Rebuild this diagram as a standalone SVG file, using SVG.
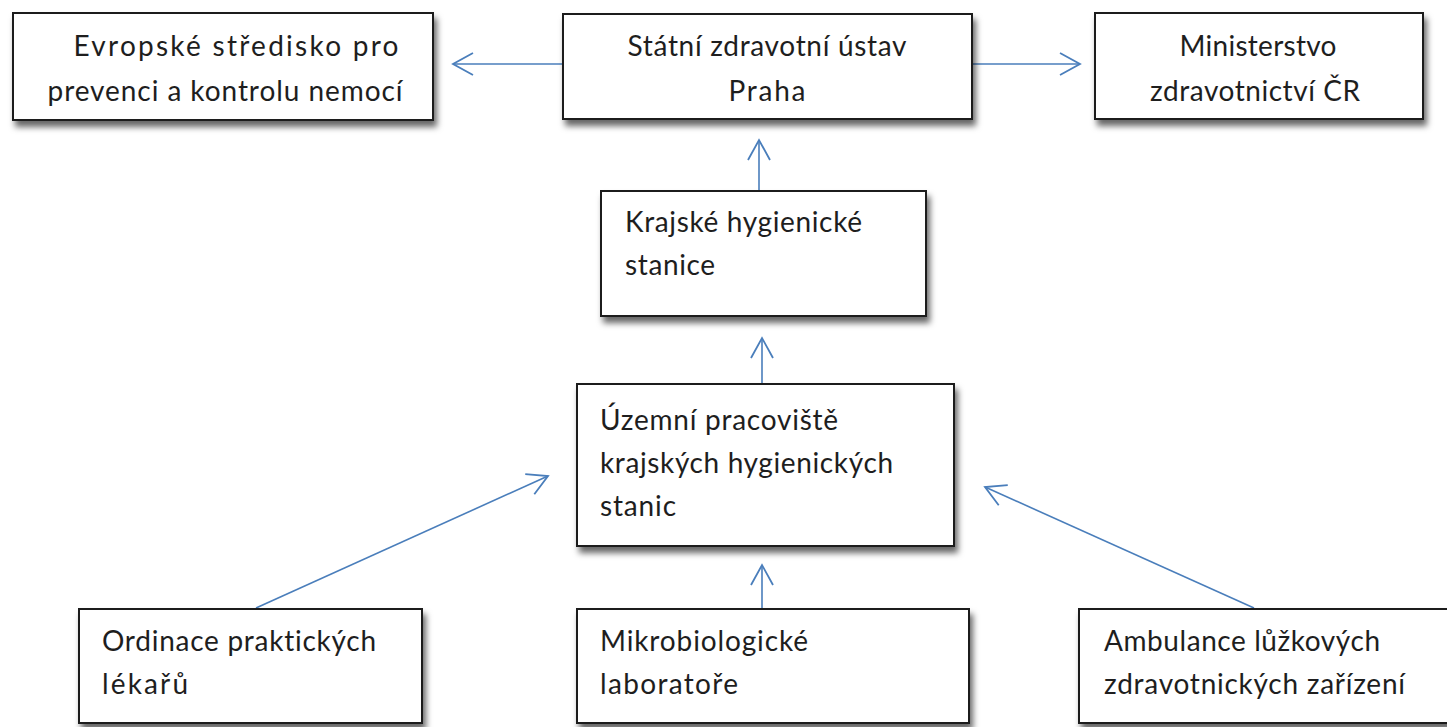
<svg xmlns="http://www.w3.org/2000/svg" width="1447" height="727" viewBox="0 0 1447 727">
<style>
.box{fill:#fff;stroke:#1a1a1a;stroke-width:2;filter:url(#sh)}
.t{font-family:Lato,"Liberation Sans",sans-serif;font-size:28px;fill:#1e1e1e;font-variant-ligatures:none}
.c{text-anchor:middle}
.ln{stroke:#4a7ebb;stroke-width:1.6;fill:none;marker-end:url(#ah)}
.lsh{stroke:#a9bfdc;stroke-width:4;fill:none;opacity:0.35;filter:url(#bl)}
</style>
<defs>
<filter id="sh" x="-10%" y="-10%" width="125%" height="140%">
<feDropShadow dx="3" dy="6" stdDeviation="3" flood-color="#000" flood-opacity="0.6"/>
</filter>
<filter id="bl"><feGaussianBlur stdDeviation="3"/></filter>
<marker id="ah" markerUnits="userSpaceOnUse" markerWidth="30" markerHeight="30" viewBox="-24 -15 28 30" refX="0" refY="0" orient="auto">
<path d="M-20,-11 L0,0 L-20,11" fill="none" stroke="#4a7ebb" stroke-width="1.8"/>
</marker>
</defs>
<rect width="1447" height="727" fill="#fff"/>
<g id="connectors">
<line class="lsh" x1="563" y1="70" x2="455" y2="70"/>
<line class="ln" x1="563" y1="64" x2="453" y2="64"/>
<line class="lsh" x1="972" y1="70" x2="1078" y2="70"/>
<line class="ln" x1="972" y1="64" x2="1080" y2="64"/>
<line class="ln" x1="759" y1="190" x2="759" y2="140"/>
<line class="ln" x1="762" y1="384" x2="762" y2="338"/>
<line class="ln" x1="762" y1="609" x2="762" y2="565"/>
<line class="ln" x1="256" y1="608" x2="548" y2="476"/>
<line class="ln" x1="1254" y1="608" x2="985" y2="487"/>
</g>
<g id="n-evropske">
<rect class="box" x="13" y="13" width="420" height="107"/>
<text class="t c" x="236" y="56" textLength="325">Evropské středisko pro</text>
<text class="t c" x="225" y="101" textLength="355">prevenci a kontrolu nemocí</text>
</g>
<g id="n-szu">
<rect class="box" x="563" y="14" width="409" height="105"/>
<text class="t c" x="767" y="56" textLength="279">Státní zdravotní ústav</text>
<text class="t c" x="767" y="101" textLength="77">Praha</text>
</g>
<g id="n-mzcr">
<rect class="box" x="1095" y="13" width="328" height="106"/>
<text class="t c" x="1258" y="56" textLength="157">Ministerstvo</text>
<text class="t c" x="1255" y="101" textLength="210">zdravotnictví ČR</text>
</g>
<g id="n-khs">
<rect class="box" x="601" y="191" width="325" height="125"/>
<text class="t" x="625" y="232" textLength="237">Krajské hygienické</text>
<text class="t" x="625" y="275" textLength="90">stanice</text>
</g>
<g id="n-uzemni">
<rect class="box" x="577" y="384" width="377" height="162"/>
<text class="t" x="600" y="430" textLength="238">Územní pracoviště</text>
<text class="t" x="600" y="473" textLength="293">krajských hygienických</text>
<text class="t" x="600" y="516" textLength="76">stanic</text>
</g>
<g id="n-ordinace">
<rect class="box" x="79" y="609" width="343" height="114"/>
<text class="t" x="102" y="651" textLength="274">Ordinace praktických</text>
<text class="t" x="102" y="694" textLength="86">lékařů</text>
</g>
<g id="n-mikro">
<rect class="box" x="577" y="609" width="392" height="114"/>
<text class="t" x="600" y="651" textLength="208">Mikrobiologické</text>
<text class="t" x="600" y="694" textLength="138">laboratoře</text>
</g>
<g id="n-ambulance">
<rect class="box" x="1079" y="609" width="380" height="114"/>
<text class="t" x="1104" y="651" textLength="276">Ambulance lůžkových</text>
<text class="t" x="1104" y="694" textLength="301">zdravotnických zařízení</text>
</g>
</svg>
